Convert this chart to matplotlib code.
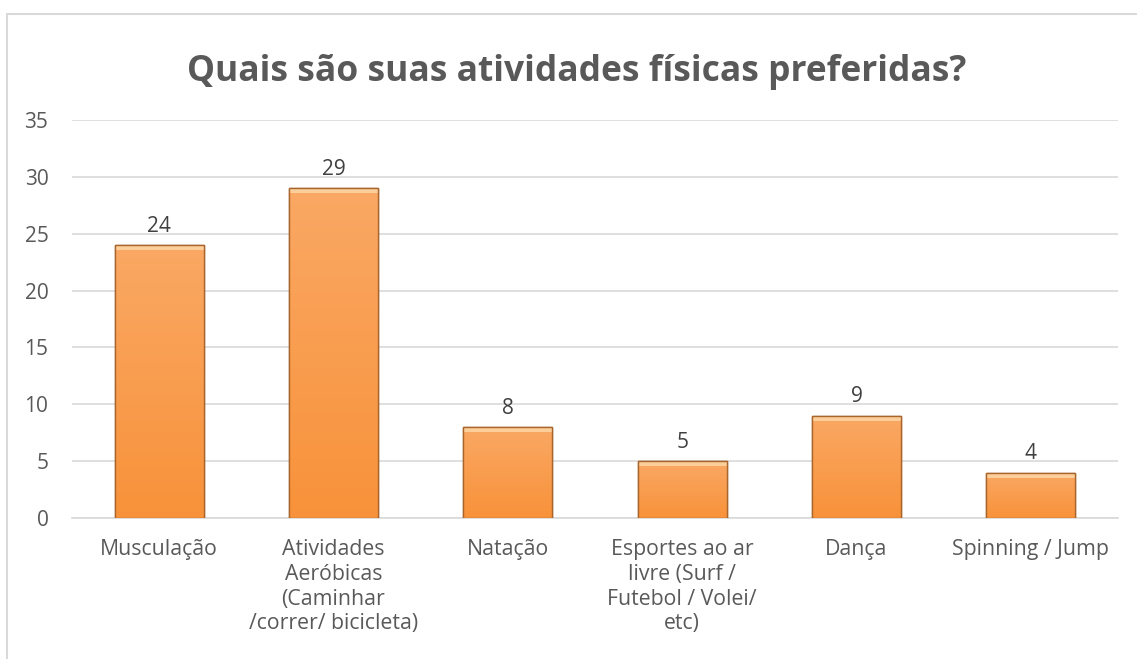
import numpy as np
import matplotlib.pyplot as plt
from matplotlib.patches import Rectangle
from matplotlib.colors import LinearSegmentedColormap

plt.rcParams['font.family'] = ['Open Sans', 'DejaVu Sans']

# Data
categories = ['Musculação',
              'Atividades\nAeróbicas\n(Caminhar\n/correr/ bicicleta)',
              'Natação',
              'Esportes ao ar\nlivre (Surf /\nFutebol / Volei/\netc)',
              'Dança',
              'Spinning / Jump']
values = [24, 29, 8, 5, 9, 4]
yticks = [0, 5, 10, 15, 20, 25, 30, 35]

text_color = '#595959'

fig = plt.figure(figsize=(11.37, 6.59), dpi=100)
ax = fig.add_axes([72 / 1137, 1 - 518 / 659, 1046 / 1137, 398 / 659])

# chart border
fig.patches.append(Rectangle((7 / 1137, -0.05), 1.2, 1 - 14 / 659 + 0.05,
                             transform=fig.transFigure, fill=False,
                             edgecolor='#D9D9D9', linewidth=1.5))

x = np.arange(len(categories))
bars = ax.bar(x, values, width=0.51, color='#F79646', edgecolor='#A8652C',
              linewidth=1.0, zorder=3)

# vertical gradient + bevel look on each bar
cmap = LinearSegmentedColormap.from_list('orange', ['#F8923A', '#FAA864'])
grad = np.linspace(0, 1, 256).reshape(-1, 1)
for b in bars:
    x0, y0 = b.get_x(), b.get_y()
    w, h = b.get_width(), b.get_height()
    im = ax.imshow(grad, cmap=cmap, aspect='auto', origin='lower',
                   extent=[x0, x0 + w, y0, y0 + h], zorder=3.5)
    im.set_clip_path(b)
    # light top bevel
    ax.add_patch(Rectangle((x0, y0 + h - 0.45), w, 0.45, facecolor='#FDD9A8',
                           edgecolor='none', zorder=3.6, alpha=0.8))
    ax.add_patch(Rectangle((x0, y0), w, h, fill=False, edgecolor='#A8652C',
                           linewidth=1.0, zorder=3.7))
    ax.text(b.get_x() + w / 2, h + 0.75, str(int(h)), ha='center', va='bottom',
            fontsize=15, color='#404040')

ax.set_xlim(-0.5, len(categories) - 0.5)
ax.set_ylim(0, 35)
ax.set_yticks(yticks)
ax.set_xticks(x)
ax.set_xticklabels(categories, fontsize=15.3, color=text_color, linespacing=1.24)
ax.tick_params(axis='y', labelsize=15, labelcolor=text_color, length=0, pad=17)
ax.tick_params(axis='x', length=0, pad=15)
ax.grid(axis='y', color='#D9D9D9', linewidth=1.2, zorder=0)
ax.set_axisbelow(True)
for s in ['top', 'right', 'left']:
    ax.spines[s].set_visible(False)
ax.spines['bottom'].set_color('#D9D9D9')
ax.spines['bottom'].set_linewidth(1.2)

fig.text(577 / 1137, 1 - 72 / 659, 'Quais são suas atividades físicas preferidas?',
         ha='center', va='center', fontsize=25.5, fontweight='bold', color=text_color)

fig.savefig('out.png', dpi=100)
